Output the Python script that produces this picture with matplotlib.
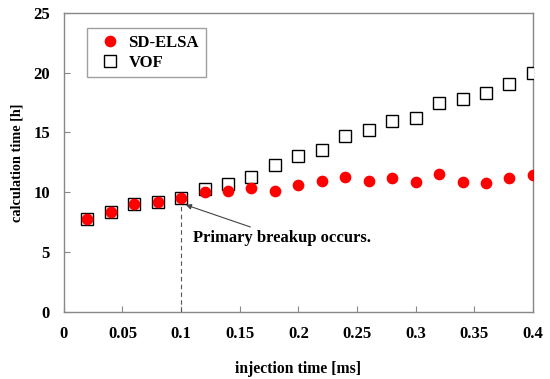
import numpy as np
import matplotlib.pyplot as plt

# injection time [ms]
t = [0.02, 0.04, 0.06, 0.08, 0.10, 0.12, 0.14, 0.16, 0.18, 0.20,
     0.22, 0.24, 0.26, 0.28, 0.30, 0.32, 0.34, 0.36, 0.38, 0.40]

# calculation time [h]
sd_elsa = [7.8, 8.33, 9.03, 9.2, 9.53, 10.06, 10.09, 10.37, 10.14, 10.62,
           10.98, 11.29, 10.95, 11.2, 10.87, 11.51, 10.9, 10.81, 11.18, 11.45]
vof = [7.8, 8.36, 9.06, 9.22, 9.56, 10.31, 10.73, 11.26, 12.26, 13.02,
       13.55, 14.72, 15.22, 15.97, 16.22, 17.45, 17.78, 18.31, 19.09, 19.98]

xticks = [0, 0.05, 0.1, 0.15, 0.2, 0.25, 0.3, 0.35, 0.4]
xticklabels = ["0", "0.05", "0.1", "0.15", "0.2", "0.25", "0.3", "0.35", "0.4"]
yticks = [0, 5, 10, 15, 20, 25]

plt.rcParams['font.family'] = ['Liberation Serif', 'DejaVu Serif']
plt.rcParams['font.weight'] = 'bold'

fig = plt.figure(figsize=(5.5, 3.79), dpi=100)
ax = fig.add_axes([0.116, 0.177, 0.853, 0.789])

ax.plot(t, vof, 's', ms=8.6, mfc='white', mec='black', mew=1.0, label='VOF', zorder=3)
ax.plot(t, sd_elsa, 'o', ms=7.4, color='#ff0000', mec='#ff0000', label='SD-ELSA', zorder=4)

# dashed marker line at the breakup time
ax.plot([0.1, 0.1], [0, 9.3], ls=(0, (4, 3)), color='#555555', lw=0.8, zorder=2)
ax.annotate("Primary breakup occurs.", xy=(0.104, 8.95), xytext=(0.11, 6.2),
            fontsize=12, fontweight='bold', va='center', ha='left',
            arrowprops=dict(arrowstyle='-|>', color='#444444', lw=0.8,
                            shrinkA=0, shrinkB=0, mutation_scale=8),
            zorder=5)

ax.set_xlim(0, 0.4)
ax.set_ylim(0, 25)
ax.set_xticks(xticks)
ax.set_xticklabels(xticklabels)
ax.set_yticks(yticks)
ax.tick_params(direction='in', length=4, color='#888888', labelsize=12)
ax.tick_params(axis='x', pad=10)
ax.tick_params(axis='y', pad=10)
for lab in ax.get_xticklabels() + ax.get_yticklabels():
    lab.set_fontweight('bold')
for s in ax.spines.values():
    s.set_color('#888888')
    s.set_linewidth(1.0)

ax.set_xlabel("injection time [ms]", fontsize=11.3, fontweight='bold', labelpad=14)
ax.set_ylabel("calculation time [h]", fontsize=10.3, fontweight='bold', labelpad=7)

handles, labels = ax.get_legend_handles_labels()
leg = ax.legend(handles[::-1], labels[::-1], loc='upper left', bbox_to_anchor=(0.049, 0.95),
                borderaxespad=0, frameon=True, fancybox=False, handletextpad=0.1,
                borderpad=0.4, labelspacing=0.25, handlelength=2.0,
                prop={'weight': 'bold', 'size': 12})
leg.get_frame().set_edgecolor('#888888')
leg.get_frame().set_linewidth(1.0)

fig.savefig("out.png", dpi=100)
